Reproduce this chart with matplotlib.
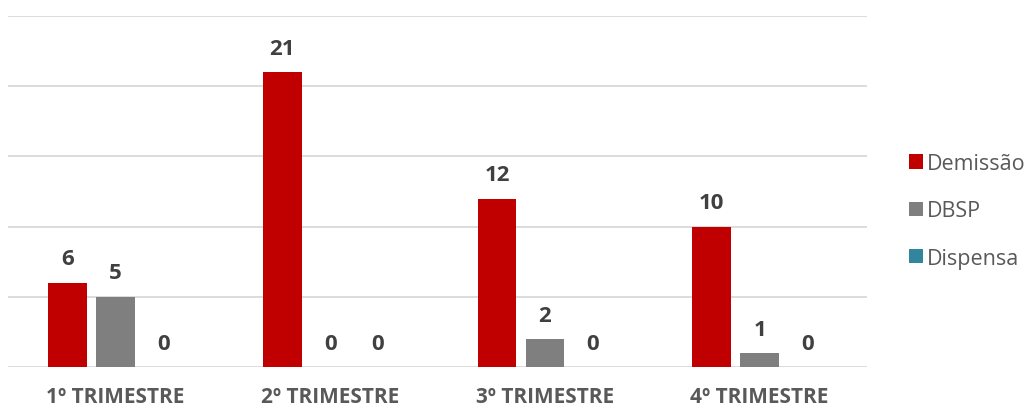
import matplotlib
matplotlib.use("Agg")
import matplotlib.pyplot as plt
import numpy as np

categories = ["1º TRIMESTRE", "2º TRIMESTRE", "3º TRIMESTRE", "4º TRIMESTRE"]
series_names = ["Demissão", "DBSP", "Dispensa"]
demissao = [6, 21, 12, 10]
dbsp = [5, 0, 2, 1]
dispensa = [0, 0, 0, 0]
colors = ["#C00000", "#7F7F7F", "#31859C"]

plt.rcParams['font.family'] = ['Open Sans', 'DejaVu Sans']

fig = plt.figure(figsize=(10.27, 4.10), dpi=100)
W, H = 1027, 410
ax = fig.add_axes([8 / W, (H - 368) / H, (867 - 8) / W, (368 - 17) / H])

x = np.arange(len(categories))
width = 0.18
offset = 0.223
data = [demissao, dbsp, dispensa]
for i, (vals, name, c) in enumerate(zip(data, series_names, colors)):
    pos = x + (i - 1) * offset
    ax.bar(pos, vals, width, color=c, label=name, zorder=3)
    for p, v in zip(pos, vals):
        ax.text(p, v + 0.95, str(v), ha='center', va='bottom', fontsize=16,
                fontweight='bold', color='#404040')

ax.set_xlim(-0.5, 3.5)
ax.set_ylim(0, 25)
ax.set_yticks([0, 5, 10, 15, 20, 25])
ax.yaxis.grid(True, color='#D9D9D9', linewidth=1.3, zorder=0)
ax.tick_params(axis='y', left=False, labelleft=False)
ax.tick_params(axis='x', bottom=False, pad=10)
ax.set_xticks(x)
ax.set_xticklabels(categories, fontsize=15, fontweight='bold', color='#595959')
for s in ax.spines.values():
    s.set_visible(False)

leg = ax.legend(loc='center left', bbox_to_anchor=(900 / W, (H - 212) / H),
                bbox_transform=fig.transFigure, frameon=False, fontsize=15.5,
                handlelength=0.65, handleheight=0.65, handletextpad=0.2,
                labelspacing=1.22, borderaxespad=0)
for t in leg.get_texts():
    t.set_color('#595959')

fig.savefig("out.png", dpi=100)
